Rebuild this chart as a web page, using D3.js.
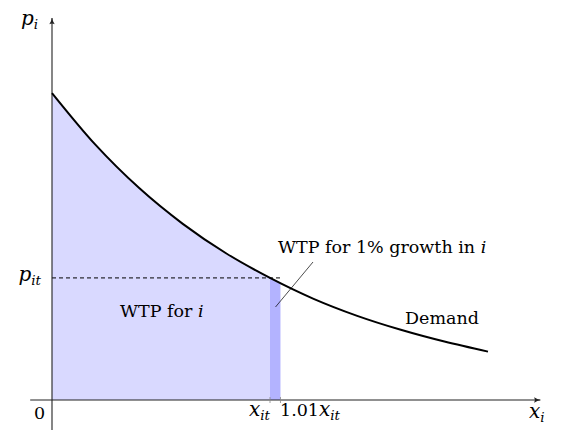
<!DOCTYPE html>
<html>
<head>
<meta charset="utf-8">
<script src="https://cdn.jsdelivr.net/npm/d3@7"></script>
<style>
  body { margin: 0; background: #fff; }
  text { font-family: "DejaVu Serif", serif; fill: #000; }
</style>
</head>
<body>
<svg width="565" height="448"></svg>
<script>
// demand curve (x in units, p in units)
const demandX = [0, 1, 2, 3, 4, 5, 6, 7, 8, 9, 10];
const demandP = [7.04, 5.85, 4.86, 4.04, 3.36, 2.80, 2.32, 1.93, 1.61, 1.34, 1.11];

// quantity / price at t and the 1% growth strip
const xIt = 5;
const xIt101 = 5.24;
const pIt = 2.80;
const stripTop = [2.80, 2.69];

// axis extents
const xAxisRange = [-0.5, 11.2];
const yAxisRange = [-0.69, 8.76];

const svg = d3.select("svg");

var x = d3.scaleLinear().domain([0, 10]).range([52, 488]);
var y = d3.scaleLinear().domain([0, 7]).range([400, 94.8]);

const pts = demandX.map((d, i) => [d, demandP[i]]);

// marker for axis arrows
svg.append("defs").append("marker")
    .attr("id", "arr")
    .attr("viewBox", "0 0 10 10")
    .attr("refX", 9).attr("refY", 5)
    .attr("markerWidth", 7).attr("markerHeight", 7)
    .attr("orient", "auto")
  .append("path")
    .attr("d", "M1,1.5 Q5,4.2 9.5,5 Q5,5.8 1,8.5 Q3,5 1,1.5Z")
    .attr("fill", "#222");

// area under demand up to x_it
const area = d3.area()
    .x(d => x(d[0]))
    .y0(y(0))
    .y1(d => y(d[1]))
    .curve(d3.curveMonotoneX);

svg.append("path")
    .datum(pts.filter(d => d[0] <= xIt))
    .attr("d", area)
    .attr("fill", "#d9d9ff");

// strip for 1% growth
svg.append("path")
    .datum([[xIt, stripTop[0]], [xIt101, stripTop[1]]])
    .attr("d", area.curve(d3.curveLinear))
    .attr("fill", "#b3b3ff");

// dashed p_it line
svg.append("line")
    .attr("x1", x(0)).attr("x2", x(xIt101))
    .attr("y1", y(pIt)).attr("y2", y(pIt))
    .attr("stroke", "#000")
    .attr("stroke-width", 1)
    .attr("stroke-dasharray", "4,3");

// axes
svg.append("line")
    .attr("x1", x(xAxisRange[0])).attr("x2", x(xAxisRange[1]))
    .attr("y1", y(0)).attr("y2", y(0))
    .attr("stroke", "#222").attr("stroke-width", 1.1)
    .attr("marker-end", "url(#arr)");
svg.append("line")
    .attr("x1", x(0)).attr("x2", x(0))
    .attr("y1", y(yAxisRange[0])).attr("y2", y(yAxisRange[1]))
    .attr("stroke", "#222").attr("stroke-width", 1.1)
    .attr("marker-end", "url(#arr)");

// small ticks at x_it and 1.01 x_it
svg.selectAll(".tk")
    .data([xIt, xIt101])
    .enter()
    .append("line")
      .attr("x1", d => x(d)).attr("x2", d => x(d))
      .attr("y1", y(0) - 3).attr("y2", y(0) + 3)
      .attr("stroke", "#888").attr("stroke-width", 0.8);

// demand curve
svg.append("path")
    .datum(pts)
    .attr("d", d3.line().x(d => x(d[0])).y(d => y(d[1])).curve(d3.curveMonotoneX))
    .attr("fill", "none")
    .attr("stroke", "#000")
    .attr("stroke-width", 2);

// leader line
svg.append("line")
    .attr("x1", 275.5).attr("y1", 307)
    .attr("x2", 313).attr("y2", 262)
    .attr("stroke", "#000").attr("stroke-width", 0.7);

// labels
function mathLabel(px, py, main, sub, anchor, pre) {
  const t = svg.append("text")
      .attr("x", px).attr("y", py)
      .attr("font-size", 18)
      .attr("text-anchor", anchor || "start");
  if (pre) t.append("tspan").attr("font-size", 17.5).text(pre);
  t.append("tspan").attr("font-style", "italic").attr("font-size", 20).text(main);
  t.append("tspan").attr("font-style", "italic")
      .attr("font-size", 13.5).attr("dy", 4).text(sub);
  return t;
}

mathLabel(21, 25, "p", "i");
mathLabel(41, 281, "p", "it", "end");
mathLabel(270, 416, "x", "it", "end");
mathLabel(280, 416, "x", "it", "start", "1.01");
mathLabel(529, 418, "x", "i");

svg.append("text")
    .attr("x", 34).attr("y", 419)
    .attr("font-size", 17.5)
    .text("0");

const wtp = svg.append("text")
    .attr("x", 120).attr("y", 317)
    .attr("font-size", 17.5);
wtp.append("tspan").text("WTP for ");
wtp.append("tspan").attr("font-style", "italic").text("i");

const wtp1 = svg.append("text")
    .attr("x", 278).attr("y", 253)
    .attr("font-size", 17.5);
wtp1.append("tspan").text("WTP for 1% growth in ");
wtp1.append("tspan").attr("font-style", "italic").text("i");

svg.append("text")
    .attr("x", 405).attr("y", 324)
    .attr("font-size", 17.5)
    .text("Demand");
</script>
</body>
</html>
